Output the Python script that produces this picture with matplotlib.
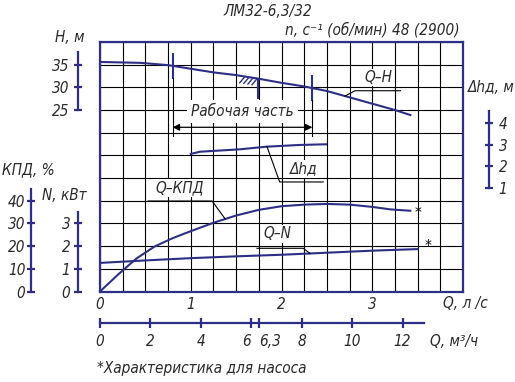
import numpy as np
import matplotlib
matplotlib.use('Agg')
import matplotlib.pyplot as plt

plt.rcParams['font.family'] = ['DejaVu Sans']
plt.rcParams['font.stretch'] = 'condensed'
plt.rcParams['font.style'] = 'italic'
plt.rcParams['font.size'] = 11

navy = '#2d2f86'
ink = '#2a2a2a'

# Q-H, м
q_h = [0, 0.45, 0.75, 1.0, 1.25, 1.5, 1.75, 2.0, 2.25, 2.5, 2.75, 3.0, 3.25, 3.42]
h = [35.6, 35.4, 34.9, 34.1, 33.3, 32.7, 31.9, 31.0, 30.2, 29.2, 27.8, 26.4, 25.0, 23.9]
# Q-КПД, %
q_eff = [0, 0.2, 0.4, 0.6, 0.8, 1.0, 1.25, 1.5, 1.75, 2.0, 2.25, 2.5, 2.75, 3.0, 3.2, 3.42]
eff = [0, 7.5, 14.5, 19.8, 23.5, 26.6, 30.3, 33.5, 36.0, 37.6, 38.3, 38.6, 38.3, 37.3, 36.2, 35.6]
# Q-N, кВт
q_n = [0, 0.5, 1.0, 1.5, 2.0, 2.5, 3.0, 3.5]
n_kw = [1.26, 1.37, 1.47, 1.55, 1.62, 1.71, 1.80, 1.87]
# Q-Δhд, м
q_dh = [1.0, 1.1, 1.54, 1.83, 2.2, 2.49]
dh = [2.57, 2.67, 2.78, 2.90, 2.98, 3.01]

q_work = [0.8, 2.34]   # рабочая часть, л/с
q_opt = 1.745

q_ticks = [0, 1, 2, 3, 4]
q_labels = ['0', '1', '2', '3', '']
m3h_ticks = [0, 2, 4, 6, 6.3, 8, 10, 12]
m3h_labels = ['0', '2', '4', '6', '6,3', '8', '10', '12']

W, HP = 515, 382


def box(x0, y0, x1, y1):
    return [x0 / W, 1 - y1 / HP, (x1 - x0) / W, (y1 - y0) / HP]


def ftext(x, y, s, ha='center', **kw):
    fig.text(x / W, 1 - y / HP, s, ha=ha, va='center', color=ink, **kw)


fig = plt.figure(figsize=(5.15, 3.82), dpi=100)
ax = fig.add_axes(box(100, 42, 463, 291.5))
ax.set_xlim(0, 4)
ax.set_ylim(0, 11)
ax.set_xticks(q_ticks)
ax.set_xticklabels(q_labels)
ax.set_xticks(np.arange(0, 4.01, 0.25), minor=True)
ax.set_yticks(range(12))
ax.set_yticklabels([])
ax.set_axisbelow(True)
ax.grid(which='both', color='black', lw=0.8)
ax.tick_params(which='both', length=0, pad=4, labelcolor=ink)
for s in ax.spines.values():
    s.set_color(navy)
    s.set_linewidth(1.6)


def scale_axis(lo, hi, pos, bounds, ticks, side='left', pad=3):
    t = ax.twinx()
    t.set_ylim(lo, hi)
    for s in t.spines.values():
        s.set_visible(False)
    sp = t.spines[side]
    sp.set_visible(True)
    sp.set_position(('axes', pos))
    sp.set_bounds(*bounds)
    sp.set_color(navy)
    sp.set_linewidth(1.6)
    if side == 'left':
        t.yaxis.tick_left()
    else:
        t.yaxis.tick_right()
    t.set_yticks(ticks)
    t.tick_params(axis='y', direction='inout', length=6, width=1.6, color=navy,
                  pad=pad, labelcolor=ink)
    return t


ax_h = scale_axis(-15, 40, -0.0606, (25, 37.8), [25, 30, 35], pad=3)
ax_k = scale_axis(0, 110, -0.19, (0, 45), [0, 10, 20, 30, 40], pad=1)
ax_n = scale_axis(0, 11, -0.0606, (0, 3.5), [0, 1, 2, 3], pad=2.5)
ax_d = scale_axis(-3.71, 7.68, 1.0716, (1, 4.55), [1, 2, 3, 4], side='right', pad=4)

# curves
ax_h.plot(q_h, h, color=navy, lw=1.5)
ax_k.plot(q_eff, eff, color=navy, lw=1.5)
ax_n.plot(q_n, n_kw, color=navy, lw=1.5)
ax_d.plot(q_dh, dh, color=navy, lw=1.5)

# рабочая часть
for q in q_work:
    hq = np.interp(q, q_h, h)
    ax_h.plot([q, q], [hq - 2.65, hq + 2.65], color=navy, lw=1.5)
    ax_h.plot([q, q], [hq - 2.65, 19.3], color='black', lw=0.8)
ax_h.annotate('', xy=(q_work[0], 21.2), xytext=(q_work[1], 21.2),
              arrowprops=dict(arrowstyle='<|-|>', color='black', lw=0.9,
                              shrinkA=0, shrinkB=0, mutation_scale=10))
ax_h.text(np.mean(q_work), 24.6, 'Рабочая часть', ha='center', va='center',
          color=ink, fontsize=11, bbox=dict(fc='white', ec='none', pad=3))

# оптимальная точка
h_opt = np.interp(q_opt, q_h, h)
ax_h.plot([q_opt, q_opt], [h_opt, 27.6], color=navy, lw=1.5)
for k in range(4):
    q0 = q_opt - 0.02 - 0.045 * k
    h0 = np.interp(q0, q_h, h) - 0.2
    ax_h.plot([q0, q0 - 0.05], [h0, h0 - 1.2], color=navy, lw=1.0)

# подписи кривых
q_a = 2.7
ax_h.plot([q_a, 2.81, 3.31], [np.interp(q_a, q_h, h), 29.26, 29.26], color='black', lw=0.8)
ax_h.text(3.07, 32.2, 'Q–H', ha='center', va='center', color=ink,
          bbox=dict(fc='white', ec='none', pad=1))

q_a = 1.84
ax_d.plot([q_a, 1.98, 2.46], [np.interp(q_a, q_dh, dh), 1.29, 1.29], color='black', lw=0.8)
ax_d.text(2.24, 1.88, 'Δhд', ha='center', va='center', color=ink,
          bbox=dict(fc='white', ec='none', pad=1))

q_a = 1.38
ax_k.plot([q_a, 1.235, 0.53], [np.interp(q_a, q_eff, eff), 39.9, 39.9], color='black', lw=0.8)
ax_k.text(0.88, 45.6, 'Q–КПД', ha='center', va='center', color=ink,
          bbox=dict(fc='white', ec='none', pad=1))

q_a = 2.315
ax_n.plot([q_a, 2.24, 1.73], [np.interp(q_a, q_n, n_kw), 1.905, 1.905], color='black', lw=0.8)
ax_n.text(1.95, 2.55, 'Q–N', ha='center', va='center', color=ink,
          bbox=dict(fc='white', ec='none', pad=1))

ax_k.text(q_eff[-1] + 0.08, eff[-1] - 1.0, '*', ha='center', va='center', color='black')
ax_n.text(q_n[-1] + 0.12, n_kw[-1] + 0.1, '*', ha='center', va='center', color='black')

# шкала м3/ч
axm = fig.add_axes(box(100, 321.7, 463, 322.7))
axm.set_xlim(0, 4 * 3.6)
axm.patch.set_visible(False)
for s in axm.spines.values():
    s.set_visible(False)
axm.spines['bottom'].set_visible(True)
axm.spines['bottom'].set_bounds(0, 12.85)
axm.spines['bottom'].set_color(navy)
axm.spines['bottom'].set_linewidth(1.6)
axm.set_yticks([])
axm.set_xticks(m3h_ticks)
axm.set_xticklabels(m3h_labels)
axm.tick_params(axis='x', direction='inout', length=6.5, width=1.6, color=navy,
                pad=5, labelcolor=ink)
lbls = axm.get_xticklabels()
lbls[3].set_ha('right')
lbls[4].set_ha('left')

# подписи
ftext(268, 12, 'ЛМ32-6,3/32')
ftext(460, 30, 'n, с⁻¹ (об/мин) 48 (2900)', ha='right')
ftext(70, 38, 'H, м')
ftext(28, 170, 'КПД, %')
ftext(64, 196, 'N, кВт')
ftext(491, 87, 'Δhд, м')
ftext(465, 303, 'Q, л /с')
ftext(454, 342, 'Q, м³/ч')
ftext(97, 368, '*Характеристика для насоса', ha='left')

fig.savefig('out.png', dpi=100)
